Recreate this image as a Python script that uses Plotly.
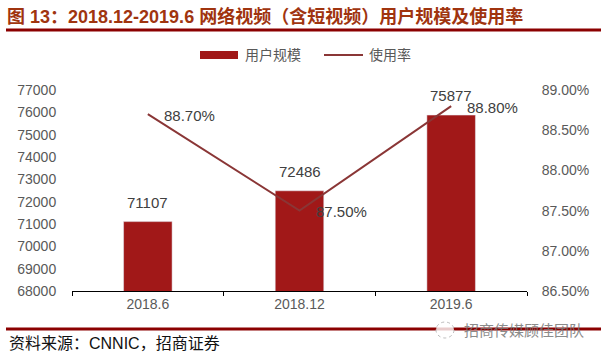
import plotly.graph_objects as go

categories = ["2018.6", "2018.12", "2019.6"]
users = [71107, 72486, 75877]
usage_rate = [88.70, 87.50, 88.80]
left_ticks = list(range(68000, 77001, 1000))
right_ticks = [86.5, 87.0, 87.5, 88.0, 88.5, 89.0]

BAR_COLOR = "#A11818"
LINE_COLOR = "#8A3636"
GRAY = "#595959"
FONT = "Liberation Sans, Noto Sans CJK SC, sans-serif"

W, H = 601, 357
L, R, T, B = 72, 527, 90, 291

def px_x(px):
    return (px - L) / (R - L)

def px_y(py):
    return (B - py) / (B - T)

fig = go.Figure()
fig.add_trace(go.Bar(
    x=categories, y=users, name="用户规模", marker_color=BAR_COLOR,
    width=0.32, yaxis="y", showlegend=False,
))
fig.add_trace(go.Scatter(
    x=categories, y=usage_rate, name="使用率", mode="lines",
    line=dict(color=LINE_COLOR, width=2), yaxis="y2", showlegend=False,
))

annotations = []
for i, v in enumerate(users):
    annotations.append(dict(
        x=i, y=v, xref="x", yref="y", text=str(v), showarrow=False,
        yanchor="bottom", yshift=9, font=dict(size=15, color="#404040", family=FONT),
    ))
for i, v in enumerate(usage_rate):
    annotations.append(dict(
        x=i, y=v, xref="x", yref="y2", text=f"{v:.2f}%", showarrow=False,
        xanchor="left", xshift=14, yshift=-1,
        font=dict(size=15, color="#404040", family=FONT),
    ))

# legend (manual)
annotations.append(dict(x=px_x(243), y=px_y(55), xref="paper", yref="paper",
                        text="用户规模", showarrow=False, xanchor="left", yanchor="middle",
                        font=dict(size=14, color=GRAY, family=FONT)))
annotations.append(dict(x=px_x(367), y=px_y(55), xref="paper", yref="paper",
                        text="使用率", showarrow=False, xanchor="left", yanchor="middle",
                        font=dict(size=14, color=GRAY, family=FONT)))
# footer
annotations.append(dict(x=px_x(7), y=px_y(343), xref="paper", yref="paper",
                        text="资料来源：CNNIC，招商证券", showarrow=False,
                        xanchor="left", yanchor="middle",
                        font=dict(size=16, color="#111111", family=FONT)))
annotations.append(dict(x=px_x(462), y=px_y(330), xref="paper", yref="paper",
                        text="招商传媒顾佳团队", showarrow=False,
                        xanchor="left", yanchor="middle", opacity=0.85,
                        font=dict(size=15, color="#777777", family=FONT)))

shapes = [
    dict(type="line", xref="paper", yref="paper", x0=px_x(6), x1=px_x(601),
         y0=px_y(30), y1=px_y(30), line=dict(color="#8B0000", width=3)),
    dict(type="line", xref="paper", yref="paper", x0=px_x(6), x1=px_x(601),
         y0=px_y(329), y1=px_y(329), line=dict(color="#8B0000", width=3)),
    dict(type="rect", xref="paper", yref="paper", x0=px_x(200), x1=px_x(238),
         y0=px_y(59), y1=px_y(51), fillcolor=BAR_COLOR, line=dict(width=0)),
    dict(type="line", xref="paper", yref="paper", x0=px_x(324), x1=px_x(363),
         y0=px_y(55), y1=px_y(55), line=dict(color=LINE_COLOR, width=2)),
    dict(type="circle", xref="paper", yref="paper", x0=px_x(436), x1=px_x(454),
         y0=px_y(338), y1=px_y(322), line=dict(color="#BBBBBB", width=1, dash="dot"),
         fillcolor="rgba(255,255,255,0.8)"),
]

fig.update_layout(
    width=W, height=H,
    margin=dict(l=L, r=W - R, t=T, b=H - B, pad=0),
    paper_bgcolor="white", plot_bgcolor="white",
    font=dict(family=FONT, size=14, color=GRAY),
    title=dict(
        text="<b>图 13：2018.12-2019.6 网络视频（含短视频）用户规模及使用率</b>",
        x=7 / W, xanchor="left", y=1 - 17 / H, yanchor="middle",
        font=dict(size=18, color="#A0340F", family=FONT),
    ),
    xaxis=dict(
        type="category", range=[-0.5, len(categories) - 0.5],
        showline=True, linecolor="black", linewidth=1,
        ticks="outside", tickson="boundaries", ticklen=4, tickcolor="black",
        showgrid=False, tickfont=dict(size=14, color=GRAY),
    ),
    yaxis=dict(
        range=[68000, 77000], tickvals=left_ticks, tickformat="d",
        showgrid=False, zeroline=False,
        showline=False, ticks="outside", ticklen=12, tickcolor="rgba(0,0,0,0)",
        tickfont=dict(size=14, color=GRAY),
    ),
    yaxis2=dict(
        range=[86.5, 89.0], tickvals=right_ticks,
        ticktext=[f"{v:.2f}%" for v in right_ticks],
        overlaying="y", side="right", showgrid=False, zeroline=False, showline=False,
        ticks="outside", ticklen=11, tickcolor="rgba(0,0,0,0)",
        tickfont=dict(size=14, color=GRAY),
    ),
    annotations=annotations, shapes=shapes, showlegend=False,
)

fig.write_html(
    "out.html",
    config={"displayModeBar": False},
    post_script="document.body.style.margin='0';document.body.style.padding='0';",
)
